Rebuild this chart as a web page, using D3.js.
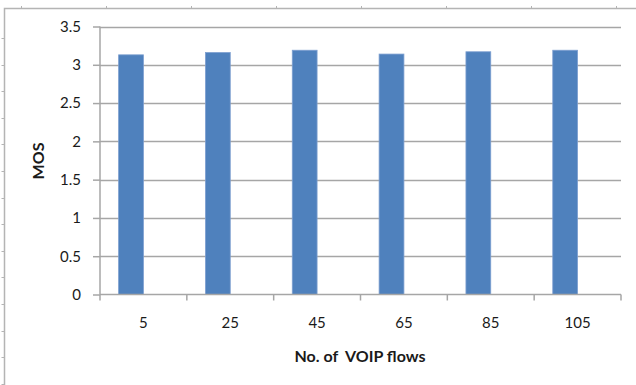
<!DOCTYPE html>
<html>
<head>
<meta charset="utf-8">
<script src="https://cdn.jsdelivr.net/npm/d3@7"></script>
<style>
  html, body { margin: 0; padding: 0; background: #fff; }
  svg { display: block; }
  text { font-family: Lato, "Open Sans", sans-serif; fill: #1a1a1a; }
</style>
</head>
<body>
<svg id="chart" width="636" height="385"></svg>
<script>
// Mean Opinion Score per number of VOIP flows
const categories = ["5", "25", "45", "65", "85", "105"];
const mosValues = [3.13, 3.16, 3.19, 3.14, 3.17, 3.19];
const yTicks = [0, 0.5, 1, 1.5, 2, 2.5, 3, 3.5];
// two slots per category; only the first one holds a series
const seriesSlots = ["MOS", "spare"];

const svg = d3.select("#chart");
const W = 636, H = 385;
const plot = { left: 100, right: 621, top: 26.5, bottom: 294.5 };

// page frame with ruler marks
const frame = svg.append("g").attr("stroke", "#b4b4b4").attr("fill", "none");
frame.append("path").attr("d", `M4.5,${H} V8.5 H${W}`).attr("stroke-width", 1.5);
d3.range(21, W, 85).forEach(x =>
  frame.append("line").attr("x1", x + 0.5).attr("x2", x + 0.5).attr("y1", 6).attr("y2", 8).attr("stroke-width", 1));
d3.range(38, H, 26.6).forEach(y =>
  frame.append("line").attr("x1", 1.5).attr("x2", 4).attr("y1", Math.round(y) + 0.5).attr("y2", Math.round(y) + 0.5).attr("stroke-width", 1));

const x = d3.scaleBand().domain(categories).range([plot.left, plot.right]).paddingInner(0).paddingOuter(0);
const groupW = x.bandwidth() / 1.75;
const xSlot = d3.scaleBand().domain(seriesSlots)
  .range([(x.bandwidth() - groupW) / 2, (x.bandwidth() + groupW) / 2]);
const y = d3.scaleLinear().domain([0, 3.5]).range([plot.bottom, plot.top]);

// gridlines
svg.append("g").selectAll("line").data(yTicks.filter(d => d > 0)).join("line")
  .attr("x1", plot.left).attr("x2", plot.right)
  .attr("y1", d => Math.round(y(d)) + 0.5).attr("y2", d => Math.round(y(d)) + 0.5)
  .attr("stroke", "#a6a6a6").attr("stroke-width", 1.5);

// bars
svg.append("g").selectAll("rect").data(categories).join("rect")
  .attr("x", (d) => x(d) + xSlot("MOS"))
  .attr("width", xSlot.bandwidth())
  .attr("y", (d, i) => y(mosValues[i]))
  .attr("height", (d, i) => y(0) - y(mosValues[i]))
  .attr("fill", "#4f81bd")
  .attr("stroke", "#7d9fd0").attr("stroke-width", 0.8);

// y axis
const yAxis = svg.append("g").attr("transform", `translate(${plot.left},0)`)
  .call(d3.axisLeft(y).tickValues(yTicks).tickFormat(d3.format("")).tickSize(7).tickPadding(12));
yAxis.select(".domain").attr("stroke", "#a6a6a6").attr("stroke-width", 1.5)
  .attr("d", `M0,${plot.top} V${plot.bottom}`);
yAxis.selectAll(".tick line").attr("stroke", "#a6a6a6").attr("stroke-width", 1.5);
yAxis.selectAll(".tick text").attr("font-size", 15).attr("fill", "#1a1a1a");

// x axis
const xAxis = svg.append("g").attr("transform", `translate(0,${plot.bottom})`)
  .call(d3.axisBottom(x).tickSize(0).tickPadding(23));
xAxis.select(".domain").attr("stroke", "#a6a6a6").attr("stroke-width", 1.5)
  .attr("d", `M${plot.left},0 H${plot.right}`);
xAxis.selectAll(".tick text").attr("font-size", 15).attr("fill", "#1a1a1a");
// category boundary ticks
svg.append("g").selectAll("line").data(categories.concat([null])).join("line")
  .attr("x1", (d, i) => i < categories.length ? x(d) : plot.right)
  .attr("x2", (d, i) => i < categories.length ? x(d) : plot.right)
  .attr("y1", plot.bottom).attr("y2", plot.bottom + 6)
  .attr("stroke", "#a6a6a6").attr("stroke-width", 1.5);

// axis titles
svg.append("text").attr("transform", "translate(44,161) rotate(-90)")
  .attr("text-anchor", "middle").attr("font-size", 16).attr("font-weight", "bold")
  .text("MOS");
svg.append("text").attr("x", 360).attr("y", 362)
  .attr("text-anchor", "middle").attr("font-size", 16).attr("font-weight", "bold")
  .attr("xml:space", "preserve").style("white-space", "pre")
  .text("No. of  VOIP flows");
</script>
</body>
</html>
